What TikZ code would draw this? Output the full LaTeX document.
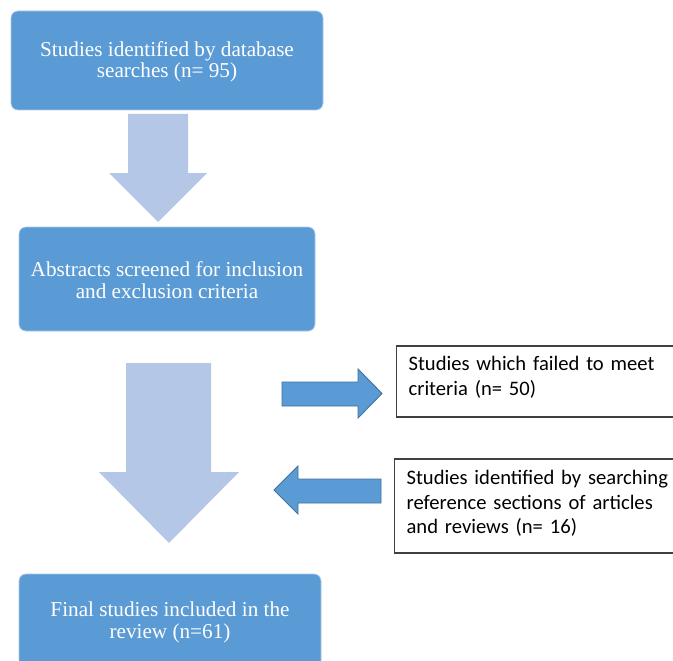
\documentclass[tikz,border=0pt]{standalone}
\usepackage{fontspec}
\setmainfont{Liberation Serif}
\newfontfamily\calibrifont{Carlito}
\definecolor{boxblue}{HTML}{5B9BD5}
\definecolor{boxedge}{HTML}{A9C8EA}
\definecolor{lightarrow}{HTML}{B4C7E7}
\definecolor{arrowedge}{HTML}{41719C}
\definecolor{greyline}{HTML}{404040}
\tikzset{
  bluebox/.style={fill=boxblue, draw=boxedge, line width=0.8pt, rounded corners=7pt,
    inner sep=0pt},
  bluetext/.style={text=white, align=center, inner sep=0pt,
    font=\fontsize{21.2}{21.5}\selectfont},
  whitebox/.style={draw=greyline, line width=1.2pt, fill=white, anchor=west,
    align=left, text width=300pt, inner xsep=12pt, inner ysep=0pt,
    font=\calibrifont\fontsize{20.6}{24.5}\selectfont},
  bigarrow/.style={fill=lightarrow, draw=none},
  sidearrow/.style={fill=boxblue, draw=arrowedge, line width=0.9pt},
}
\begin{document}
\begin{tikzpicture}[x=1pt,y=-1pt]
\useasboundingbox (0,0) rectangle (673,661);
\clip (0,0) rectangle (673,661);

\node[bluebox, minimum width=312pt, minimum height=99pt] (b1) at (167,60.5) {};
\node[bluetext] (t1) at (167,62)
  {Studies identified by database\\searches (n= 95)};
\node[bluebox, minimum width=296pt, minimum height=104pt] (b2) at (167,279) {};
\node[bluetext] (t2) at (167,280)
  {Abstracts screened for inclusion\\and exclusion criteria};
\node[bluebox, minimum width=302pt, minimum height=110pt] (b5) at (170,629) {};
\node[bluetext] (t5) at (170,622.5)
  {Final studies included in the\\review (n=61)};

\node[whitebox, minimum height=71pt] (b3) at (396,381.5) {};
\node[whitebox, draw=none, fill=none] (t3) at (396,377.5)
  {Studies which failed to meet\\criteria (n= 50)};
\node[whitebox, minimum height=94pt] (b4) at (394,506) {};
\node[whitebox, draw=none, fill=none] (t4) at (394,503.5)
  {Studies identified by searching\\reference sections of articles\\and reviews (n= 16)};

% block arrows
\draw[bigarrow] (128,114) -- (188,114) -- (188,173) -- (207,173) -- (158,222)
  -- (109,173) -- (128,173) -- cycle;
\draw[bigarrow] (126,363) -- (211,363) -- (211,472) -- (239,472) -- (169,543)
  -- (99,472) -- (126,472) -- cycle;
\draw[sidearrow] (282,382) -- (358,382) -- (358,369) -- (382,393.5) -- (358,418)
  -- (358,406) -- (282,406) -- cycle;
\draw[sidearrow] (381,479) -- (298,479) -- (298,466) -- (274,490) -- (298,514)
  -- (298,503) -- (381,503) -- cycle;
\end{tikzpicture}
\end{document}
